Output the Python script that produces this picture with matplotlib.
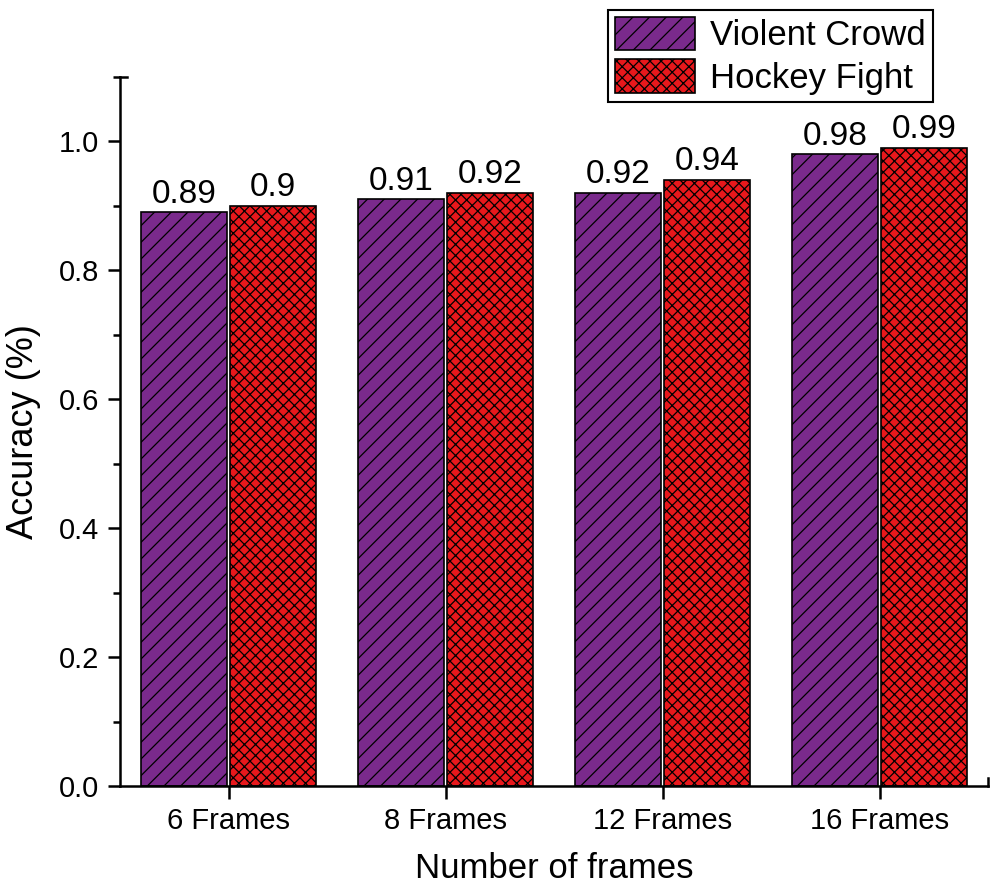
import numpy as np
import matplotlib
matplotlib.use('Agg')
import matplotlib.pyplot as plt
from matplotlib.ticker import MultipleLocator

# Datos del grafico
categorias = ['6 Frames', '8 Frames', '12 Frames', '16 Frames']
violent_crowd = [0.89, 0.91, 0.92, 0.98]
hockey_fight = [0.90, 0.92, 0.94, 0.99]
etiquetas_vc = ['0.89', '0.91', '0.92', '0.98']
etiquetas_hf = ['0.9', '0.92', '0.94', '0.99']

plt.rcParams['font.family'] = ['Liberation Sans', 'DejaVu Sans']
plt.rcParams['hatch.linewidth'] = 0.9

fig = plt.figure(figsize=(9.95, 8.92), dpi=100)
ax = fig.add_axes([0.1206, 0.1188, 0.8724, 0.7949])

x = np.arange(len(categorias))
ancho = 0.395

b1 = ax.bar(x - ancho / 2 - 0.008, violent_crowd, ancho, color='#7a2a8c',
            edgecolor='black', linewidth=1.2, hatch='//', label='Violent Crowd')
b2 = ax.bar(x + ancho / 2 + 0.008, hockey_fight, ancho, color='#e8181c',
            edgecolor='black', linewidth=1.2, hatch='xxx', label='Hockey Fight')

ax.bar_label(b1, labels=etiquetas_vc, padding=2, fontsize=24)
ax.bar_label(b2, labels=etiquetas_hf, padding=2, fontsize=24)

ax.set_xlim(-0.5, 3.5)
ax.set_ylim(0, 1.1)
ax.set_xticks(x)
ax.set_xticklabels(categorias)
ax.yaxis.set_major_locator(MultipleLocator(0.2))
ax.yaxis.set_minor_locator(MultipleLocator(0.1))
ax.yaxis.set_major_formatter(matplotlib.ticker.FormatStrFormatter('%.1f'))

ax.spines['top'].set_visible(False)
ax.spines['right'].set_visible(False)
ax.spines['left'].set_linewidth(1.8)
ax.spines['bottom'].set_linewidth(1.8)
ax.tick_params(axis='both', which='major', direction='out', length=9, width=1.8,
               labelsize=21, pad=6)
ax.tick_params(axis='x', which='major', pad=6)
ax.tick_params(axis='y', which='minor', direction='out', length=5, width=1.8)

# Pequenas marcas al final de los ejes (estilo Origin)
ax.plot([0, 0.008], [1, 1], transform=ax.transAxes, color='black', lw=1.8, clip_on=False)
ax.plot([1, 1], [0, 0.012], transform=ax.transAxes, color='black', lw=1.8, clip_on=False)

ax.set_xlabel('Number of frames', fontsize=25, labelpad=12)
ax.set_ylabel('Accuracy (%)', fontsize=26, labelpad=13)

leg = ax.legend(loc='upper left', bbox_to_anchor=(608 / 995, 1 - 10 / 892),
                bbox_transform=fig.transFigure, fontsize=25, fancybox=False,
                edgecolor='black', handlelength=2.3, handleheight=1.1,
                borderpad=0.2, labelspacing=0.2, handletextpad=0.45,
                borderaxespad=0, framealpha=1)
leg.get_frame().set_linewidth(1.5)

plt.savefig('out.png', dpi=100)
